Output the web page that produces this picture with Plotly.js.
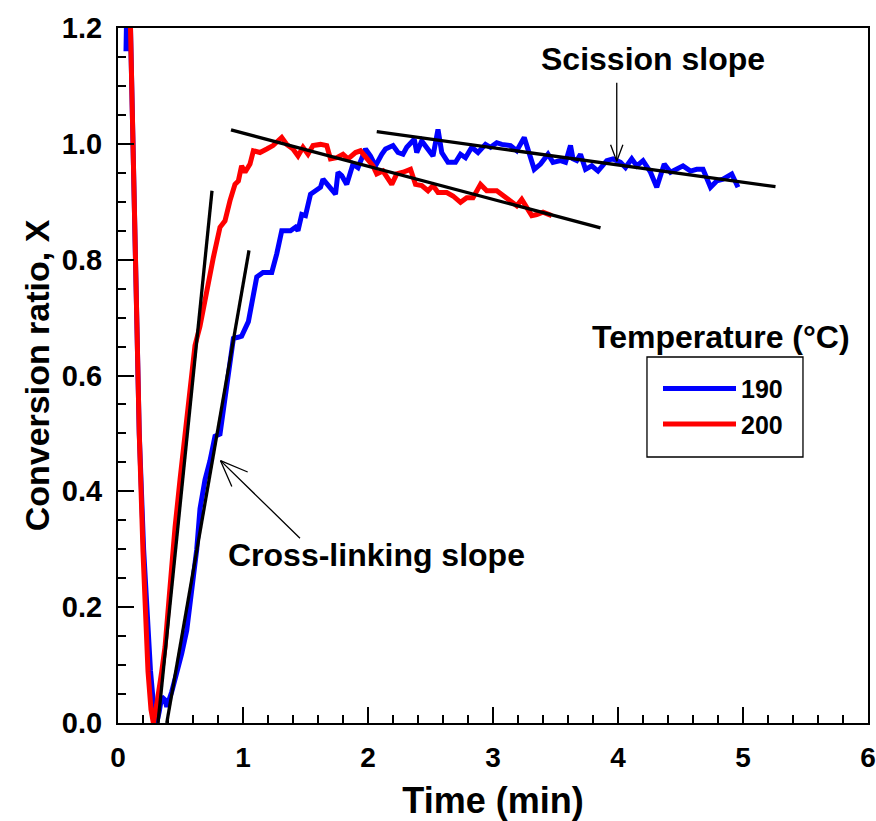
<!DOCTYPE html>
<html>
<head>
<meta charset="utf-8">
<script src="https://cdn.plot.ly/plotly-3.0.1.min.js"></script>
<style>html,body{margin:0;padding:0;background:#fff;}#chart{width:876px;height:821px;}</style>
</head>
<body>
<div id="chart"></div>
<script>
// ---- Data ----
const seriesNames = ["190", "200"];

const t190 = [0.064,0.075,0.088,0.10,0.12,0.145,0.17,0.205,0.235,0.26,0.285,0.31,0.33,0.35,0.376,0.39,0.43,0.47,0.51,0.55,0.58,0.61,0.63,0.656,0.696,0.736,0.776,0.816,0.856,0.896,0.923,0.96,0.989,1.043,1.083,1.11,1.16,1.23,1.27,1.31,1.38,1.42,1.44,1.47,1.50,1.54,1.58,1.62,1.64,1.68,1.74,1.76,1.79,1.83,1.88,1.92,1.98,2.02,2.06,2.11,2.14,2.20,2.24,2.28,2.31,2.37,2.39,2.43,2.47,2.52,2.56,2.59,2.64,2.70,2.74,2.78,2.83,2.88,2.94,2.98,3.03,3.07,3.14,3.19,3.25,3.28,3.33,3.38,3.44,3.48,3.54,3.58,3.62,3.64,3.67,3.70,3.74,3.79,3.84,3.91,3.96,4.02,4.06,4.11,4.15,4.20,4.26,4.31,4.37,4.42,4.47,4.52,4.58,4.63,4.68,4.74,4.79,4.84,4.91,4.96];
const x190 = [1.16,1.35,1.45,1.20,1.00,0.75,0.50,0.30,0.17,0.09,0.03,0.00,0.02,0.045,0.04,0.028,0.054,0.085,0.12,0.16,0.21,0.25,0.30,0.37,0.42,0.453,0.495,0.499,0.561,0.61,0.664,0.666,0.668,0.693,0.741,0.77,0.778,0.778,0.81,0.85,0.85,0.856,0.85,0.878,0.876,0.913,0.919,0.925,0.939,0.928,0.913,0.951,0.945,0.93,0.965,0.959,0.991,0.979,0.962,0.982,0.991,0.997,0.985,0.982,0.994,1.008,0.985,1.005,0.994,0.979,1.025,0.985,0.968,0.968,0.982,0.976,0.994,0.985,0.999,0.994,1.002,0.999,0.997,0.988,1.011,0.988,0.956,0.965,0.982,0.968,0.971,0.968,0.997,0.974,0.971,0.982,0.956,0.962,0.953,0.971,0.974,0.968,0.959,0.974,0.962,0.971,0.951,0.925,0.965,0.951,0.956,0.962,0.953,0.956,0.956,0.925,0.936,0.939,0.948,0.925];

const t200 = [0.08,0.10,0.12,0.144,0.17,0.20,0.22,0.24,0.264,0.283,0.309,0.33,0.35,0.376,0.416,0.456,0.496,0.536,0.576,0.616,0.656,0.696,0.723,0.736,0.763,0.816,0.856,0.896,0.936,0.963,0.989,1.016,1.056,1.083,1.136,1.19,1.24,1.31,1.35,1.40,1.44,1.48,1.52,1.56,1.62,1.67,1.70,1.75,1.80,1.84,1.90,1.94,1.99,2.04,2.07,2.12,2.19,2.23,2.28,2.34,2.38,2.43,2.48,2.52,2.56,2.63,2.68,2.74,2.79,2.84,2.90,2.95,3.03,3.11,3.19,3.23,3.31,3.35,3.40,3.47];
const x200 = [1.40,1.20,1.00,0.75,0.50,0.296,0.172,0.089,0.023,0.00,0.031,0.056,0.089,0.131,0.238,0.337,0.42,0.503,0.586,0.652,0.685,0.734,0.759,0.781,0.804,0.856,0.867,0.902,0.93,0.936,0.962,0.951,0.965,0.988,0.985,0.991,0.997,1.011,0.999,0.991,0.979,0.994,0.982,0.997,0.999,0.997,0.974,0.976,0.982,0.974,0.985,0.988,0.976,0.962,0.948,0.953,0.93,0.948,0.951,0.956,0.93,0.928,0.919,0.928,0.916,0.916,0.91,0.899,0.907,0.907,0.93,0.919,0.919,0.907,0.893,0.904,0.876,0.878,0.882,0.876];

// fitted slope lines (end points)
const crossFit190T = [0.39, 1.048], crossFit190X = [0.0, 0.816];
const crossFit200T = [0.32, 0.752], crossFit200X = [0.0, 0.919];
const scisFit190T = [2.07, 5.26], scisFit190X = [1.021, 0.926];
const scisFit200T = [0.904, 3.86], scisFit200X = [1.024, 0.855];

const xTickVals = [0,1,2,3,4,5,6];
const yTickVals = [0.0,0.2,0.4,0.6,0.8,1.0,1.2];

// ---- Styling ----
const FONT = "Liberation Sans, Arial, Helvetica, sans-serif";
const blue = "#0000ff", red = "#ff0000";

const traces = [
  {x: t190, y: x190, name: seriesNames[0], mode: "lines", line: {color: blue, width: 5}},
  {x: t200, y: x200, name: seriesNames[1], mode: "lines", line: {color: red, width: 5}},
  {x: crossFit200T, y: crossFit200X, mode: "lines", showlegend: false, line: {color: "#000", width: 3.3}},
  {x: crossFit190T, y: crossFit190X, mode: "lines", showlegend: false, line: {color: "#000", width: 3.3}},
  {x: scisFit190T, y: scisFit190X, mode: "lines", showlegend: false, line: {color: "#000", width: 3.3}},
  {x: scisFit200T, y: scisFit200X, mode: "lines", showlegend: false, line: {color: "#000", width: 3.3}}
];

function arrowPart(x, y, ax, ay) {
  return {x: x, y: y, xref: "x", yref: "y", text: "", showarrow: true, arrowhead: 0,
          arrowwidth: 1.3, arrowcolor: "#000", ax: ax, ay: ay, standoff: 0, startstandoff: 0};
}

const annotations = [
  {x: 4.28, y: 1.147, xref: "x", yref: "y", text: "Scission slope", showarrow: false,
   font: {family: FONT, size: 32, color: "#000", weight: "bold"}},
  {x: 2.07, y: 0.29, xref: "x", yref: "y", text: "Cross-linking slope", showarrow: false,
   font: {family: FONT, size: 32, color: "#000", weight: "bold"}},
  {x: 4.82, y: 0.666, xref: "x", yref: "y", text: "Temperature (°C)", showarrow: false,
   font: {family: FONT, size: 32, color: "#000", weight: "bold"}},
  arrowPart(3.99, 0.97, 0, -80),
  arrowPart(3.99, 0.97, -6.7, -18),
  arrowPart(3.99, 0.97, 6.7, -18),
  arrowPart(0.82, 0.453, 81, 79),
  arrowPart(0.82, 0.453, 28.7, 12),
  arrowPart(0.82, 0.453, 12, 27.3)
];

const layout = {
  width: 876, height: 821,
  margin: {l: 118, r: 8, t: 28, b: 98},
  paper_bgcolor: "#fff", plot_bgcolor: "#fff",
  font: {family: FONT, color: "#000"},
  showlegend: true,
  legend: {x: 0.72, y: 0.514, xanchor: "left", yanchor: "top",
           borderwidth: 0, bgcolor: "rgba(0,0,0,0)",
           font: {family: FONT, size: 25, color: "#000", weight: "bold"},
           itemwidth: 73, tracegroupgap: 0},
  shapes: [
    {type: "rect", xref: "paper", yref: "paper", x0: 0.7053, x1: 0.9133, y0: 0.3827, y1: 0.5266,
     line: {color: "#000", width: 1.3}, fillcolor: "rgba(0,0,0,0)"}
  ],
  xaxis: {
    range: [0, 6], tickvals: xTickVals, ticktext: xTickVals.map(String),
    ticks: "inside", ticklen: 16, tickwidth: 2, tickcolor: "#000",
    minor: {dtick: 0.2, ticks: "inside", ticklen: 8, tickwidth: 2, tickcolor: "#000"},
    showline: true, linewidth: 2, linecolor: "#000", mirror: true,
    showgrid: false, zeroline: false, ticklabelstandoff: 8,
    tickfont: {family: FONT, size: 28, color: "#000", weight: "bold"},
    title: {text: "Time (min)", font: {family: FONT, size: 36, color: "#000", weight: "bold"}, standoff: 16}
  },
  yaxis: {
    range: [0, 1.2], tickvals: yTickVals, ticktext: yTickVals.map(v => v.toFixed(1)),
    ticks: "inside", ticklen: 16, tickwidth: 2, tickcolor: "#000",
    minor: {dtick: 0.05, ticks: "inside", ticklen: 8, tickwidth: 2, tickcolor: "#000"},
    showline: true, linewidth: 2, linecolor: "#000", mirror: true,
    showgrid: false, zeroline: false, ticklabelstandoff: 8,
    tickfont: {family: FONT, size: 29, color: "#000", weight: "bold"},
    title: {text: "Conversion ratio, X", font: {family: FONT, size: 34, color: "#000", weight: "bold"}, standoff: 2}
  },
  annotations: annotations
};

Plotly.newPlot("chart", traces, layout, {displayModeBar: false, staticPlot: true});
</script>
</body>
</html>
